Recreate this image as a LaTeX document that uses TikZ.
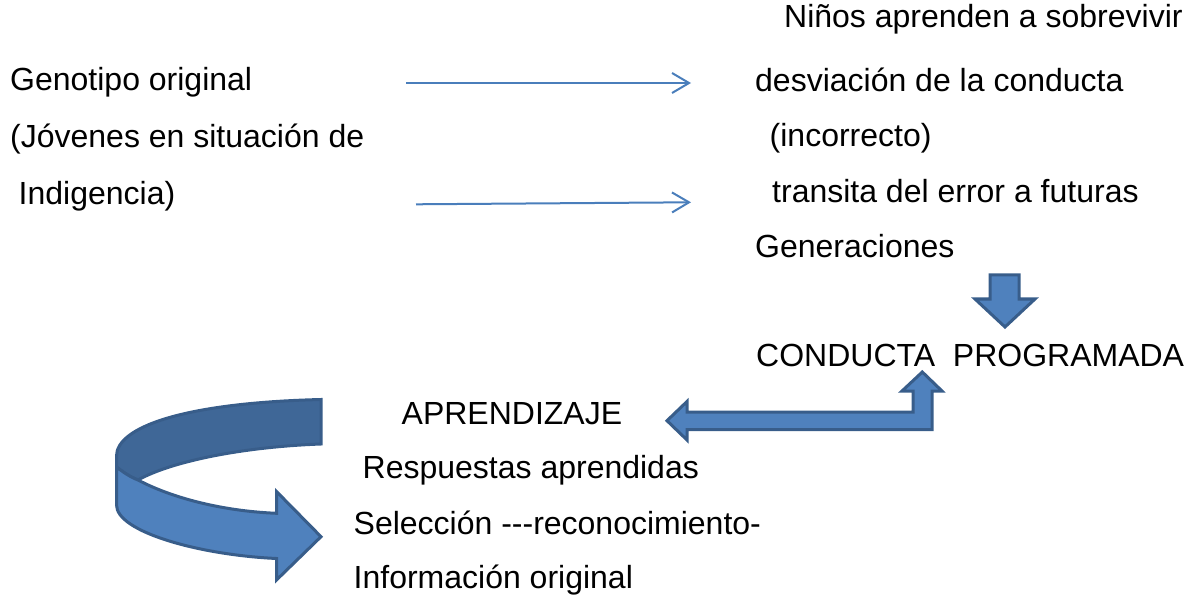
\documentclass[tikz,border=0pt]{standalone}
\usepackage{fontspec}
\setmainfont{Liberation Sans}
\usepackage{tikz}
\usetikzlibrary{arrows.meta}
\definecolor{lineblue}{HTML}{4A7EBB}
\definecolor{fillblue}{HTML}{4F81BD}
\definecolor{backblue}{HTML}{3F6797}
\definecolor{edgeblue}{HTML}{385D8A}
\newcommand{\drawDownArrow}[2]{% tip: x,y
  \draw[block] (#1-15,#2-52) -- (#1+14,#2-52) -- (#1+14,#2-28) -- (#1+30,#2-28)
    -- (#1,#2) -- (#1-30,#2-28) -- (#1-15,#2-28) -- cycle;
}

\begin{document}
\begin{tikzpicture}[x=1pt,y=-1pt,
  txt/.style={anchor=base west,inner sep=0pt,font=\fontsize{32}{38}\selectfont},
  thin/.style={lineblue,line width=2pt,-{Straight Barb[length=17pt,width=20pt]}},
  block/.style={fill=fillblue,draw=edgeblue,line width=3pt}]
\useasboundingbox (0,0) rectangle (1192,596);

% Left column
\node[txt] (geno) at (10,91) {Genotipo original};
\node[txt] (jov) at (10,148) {(Jóvenes en situación de};
\node[txt] (indig) at (18.5,205) {Indigencia)};

% Right column
\node[txt] (ninos) at (784,28) {Niños aprenden a sobrevivir};
\node[txt] (desv) at (755,92) {desviación de la conducta};
\node[txt] (incor) at (769.5,147) {(incorrecto)};
\node[txt] (trans) at (772,203) {transita del error a futuras};
\node[txt] (gener) at (755,258) {Generaciones};
\node[txt] (cprog) at (756,366) {CONDUCTA\ \ PROGRAMADA};

% Bottom column
\node[txt] (apren) at (401.5,424) {APRENDIZAJE};
\node[txt] (resp) at (362.5,478) {Respuestas aprendidas};
\node[txt] (selec) at (353.5,534) {Selección -\kern0pt-\kern0pt-reconocimiento-};
\node[txt] (info) at (353.5,588) {Información original};

% Thin arrows
\coordinate (a1s) at (406,83);
\coordinate (a1e) at (691,83);
\coordinate (a2s) at (416,204.3);
\coordinate (a2e) at (691,202.3);
\draw[thin] (a1s) -- (a1e);
\draw[thin] (a2s) -- (a2e);

% Down arrow
\drawDownArrow{1005}{327}

% Bent double arrow
\draw[block] (667,420.7) -- (687,401.5) -- (687,412) -- (913,412) -- (913,391)
  -- (902,391) -- (922.3,372) -- (942,391) -- (932,391) -- (932,429.5)
  -- (687,429.5) -- (687,440) -- cycle;

% Curved arrow, back band
\draw[block,fill=backblue] (321,399.5) .. controls (180,403) and (116.5,428) .. (116.5,456)
  -- (116.5,467) .. controls (123,472) and (130,477) .. (138,480)
  .. controls (170,462) and (240,447) .. (321,444) -- cycle;

% Curved arrow, front band
\draw[block] (116.5,467) .. controls (123,472) and (130,477) .. (138,480)
  .. controls (170,497) and (220,511) .. (276.5,513.3) -- (276.5,491.5)
  -- (321,536.7) -- (276.5,580) -- (276.5,558.5)
  .. controls (200,555) and (116.5,532) .. (116.5,505) -- cycle;
\end{tikzpicture}
\end{document}
